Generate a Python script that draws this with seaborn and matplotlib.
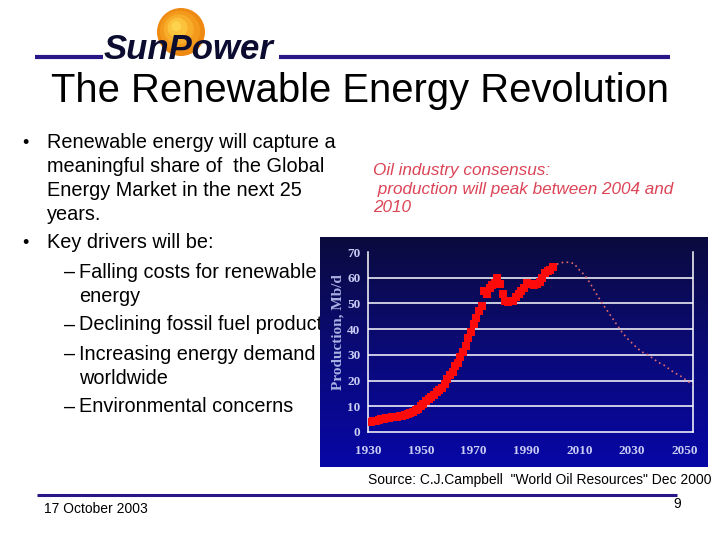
import numpy as np
import pandas as pd
import matplotlib.pyplot as plt
import seaborn as sns
from matplotlib.colors import LinearSegmentedColormap
from matplotlib.patches import Circle


# world oil production, Mb/d
hist_years = list(range(1930, 2001))
hist_prod = [
	3.9, 4.0, 4.2, 4.4, 4.6, 4.9, 5.2, 5.5, 5.6, 5.8,
	5.9, 6.0, 6.1, 6.3, 6.6, 6.9, 7.3, 7.8, 8.5, 9.0,
	10.0, 11.0, 12.0, 12.8, 13.5, 14.2, 15.5, 16.5, 17.3, 18.5,
	20.5, 22.0, 23.5, 25.5, 27.0, 29.0, 31.0, 33.5, 36.5, 39.0,
	42.0, 44.5, 47.0, 49.0, 55.0, 53.5, 56.0, 57.0, 58.0, 60.0,
	57.5, 53.5, 51.0, 50.5, 51.0, 51.0, 52.5, 53.5, 55.0, 56.0,
	58.0, 57.5, 57.5, 57.0, 57.5, 58.5, 60.0, 62.0, 62.5, 63.0,
	64.0,
]
fcst_years = [
	2000, 2002, 2004, 2006, 2008, 2010, 2012, 2014, 2016, 2018,
	2020, 2022, 2024, 2026, 2028, 2030, 2032, 2034, 2036, 2038,
	2040, 2042, 2044, 2046, 2048, 2050, 2052, 2053,
]
fcst_prod = [
	64.0, 65.5, 66.0, 66.0, 65.5, 63.0, 61.0, 58.0, 54.5, 51.0,
	48.0, 45.0, 42.0, 39.0, 36.5, 34.5, 32.5, 31.0, 30.0, 28.5,
	27.0, 26.0, 24.5, 23.0, 22.0, 20.5, 19.0, 18.5,
]

x_ticks = list(range(1930, 2051, 10))
x_labels = ["1930", "", "1950", "", "1970", "", "1990", "", "2010", "", "2030", "", "2050"]
y_ticks = [0, 10, 20, 30, 40, 50, 60, 70]

title = "The Renewable Energy Revolution"
bullet_1 = ["Renewable energy will capture a", "meaningful share of  the Global",
	"Energy Market in the next 25", "years."]
bullet_2 = "Key drivers will be:"
# the chart image covers the end of the second driver on the slide
drivers = [["Falling costs for renewable", "energy"],
	["Declining fossil fuel product"],
	["Increasing energy demand", "worldwide"],
	["Environmental concerns"]]
callout = ["Oil industry consensus:", " production will peak between 2004 and", "2010"]
source = "Source: C.J.Campbell  \"World Oil Resources\" Dec 2000"
date_text = "17 October 2003"
page_no = "9"

NAVY_LINE = "#2b1688"
TICK_COL = "#c9cdf4"


def draw_slide(fig):
	ax = fig.add_axes([0, 0, 1, 1])
	ax.set_xlim(0, 720)
	ax.set_ylim(540, 0)
	ax.axis("off")
	ax.set_zorder(0)

	# logo: sun + wordmark, header rule
	for r, c in [(24, "#ee8a12"), (20, "#f39a1c"), (15, "#f7ad2a"), (10, "#fbc23c"), (5, "#fdd24c")]:
		ax.add_patch(Circle((181 - (24 - r) * 0.25, 32 - (24 - r) * 0.3), r, color=c, lw=0))
	ax.plot([35, 103], [57, 57], color=NAVY_LINE, lw=3, solid_capstyle="butt")
	ax.plot([279, 670], [57, 57], color=NAVY_LINE, lw=3, solid_capstyle="butt")
	ax.text(104, 59, "SunPower", fontsize=25, fontweight="bold", fontstyle="italic",
		color="#0c0c30", ha="left", va="baseline")

	ax.text(360, 91, title, fontsize=28.8, ha="center", va="center", color="black")

	ax.text(22, 143, "\u2022", fontsize=13, va="center")
	y = 143
	for line in bullet_1:
		ax.text(47, y, line, fontsize=14.3, va="center")
		y += 24
	ax.text(22, 243, "\u2022", fontsize=13, va="center")
	ax.text(47, 243, bullet_2, fontsize=14.3, va="center")
	y = 272
	for item in drivers:
		ax.text(64, y, "\u2013", fontsize=14.3, va="center")
		for line in item:
			ax.text(79, y, line, fontsize=14.3, va="center")
			y += 24
		y += 5

	y = 171
	for line in callout:
		ax.text(373, y, line, fontsize=12.3, fontstyle="italic", color="#dc4557", va="center")
		y += 18.5

	ax.text(368, 480, source, fontsize=10, va="center")
	ax.plot([37, 677], [495, 495], color=NAVY_LINE, lw=2.2, solid_capstyle="butt")
	ax.text(44, 509, date_text, fontsize=10, va="center")
	ax.text(673, 504, page_no, fontsize=10, va="center")


def draw_chart(fig):
	# gradient backdrop of the pasted chart image
	panel = fig.add_axes([320 / 720, 1 - 467 / 540, 388 / 720, 230 / 540])
	panel.set_zorder(5)
	cmap = LinearSegmentedColormap.from_list("bg", ["#0b0b3e", "#0a0a78", "#0707a6"])
	grad = np.linspace(0, 1, 256).reshape(-1, 1)
	panel.imshow(grad, aspect="auto", cmap=cmap, extent=[0, 1, 0, 1])
	panel.axis("off")

	ax = fig.add_axes([368 / 720, 1 - 432 / 540, 325 / 720, 180 / 540])
	ax.set_zorder(6)
	ax.patch.set_alpha(0)

	hist = pd.DataFrame({"year": hist_years, "prod": hist_prod})
	fcst = pd.DataFrame({"year": fcst_years, "prod": fcst_prod})
	sns.lineplot(data=fcst, x="year", y="prod", ax=ax, color="#e46a6a",
		lw=1.2, linestyle=(0, (1, 2)), zorder=3)
	sns.scatterplot(data=hist, x="year", y="prod", ax=ax, marker="s", s=34,
		color="#ff0a0a", linewidth=0, zorder=4)

	ax.set_xlim(1930, 2053)
	ax.set_ylim(0, 70)
	ax.set_xticks(x_ticks)
	ax.set_xticklabels(x_labels)
	ax.set_yticks(y_ticks)
	for v in y_ticks[1:-1]:
		ax.axhline(v, color="white", lw=1.1, zorder=1)
	ax.grid(False)

	for side in ["left", "bottom", "right"]:
		ax.spines[side].set_visible(True)
		ax.spines[side].set_color("white")
		ax.spines[side].set_linewidth(1.1)
	ax.spines["top"].set_visible(False)
	ax.tick_params(axis="both", colors="white", length=3, width=1.1,
		labelcolor=TICK_COL, direction="out")
	ax.tick_params(axis="x", pad=6)
	ax.tick_params(axis="y", pad=2.5)
	for lab in ax.get_xticklabels() + ax.get_yticklabels():
		lab.set_family(["Liberation Serif", "DejaVu Serif"])
		lab.set_fontweight("bold")
		lab.set_fontsize(9.5)

	ax.set_xlabel("")
	ax.set_ylabel("Production, Mb/d", family=["Liberation Serif", "DejaVu Serif"],
		fontsize=11, fontweight="bold", color="#a9b0e2")
	ax.yaxis.set_label_coords(-0.072, 0.555)


def main():
	sns.set_style("white")
	plt.rcParams["font.family"] = ["Liberation Sans", "DejaVu Sans"]
	plt.rcParams["text.color"] = "black"
	fig = plt.figure(figsize=(7.2, 5.4), dpi=100)
	fig.patch.set_facecolor("white")
	draw_slide(fig)
	draw_chart(fig)
	fig.savefig("out.png", dpi=100)
	plt.close(fig)


if __name__ == "__main__":
	main()
